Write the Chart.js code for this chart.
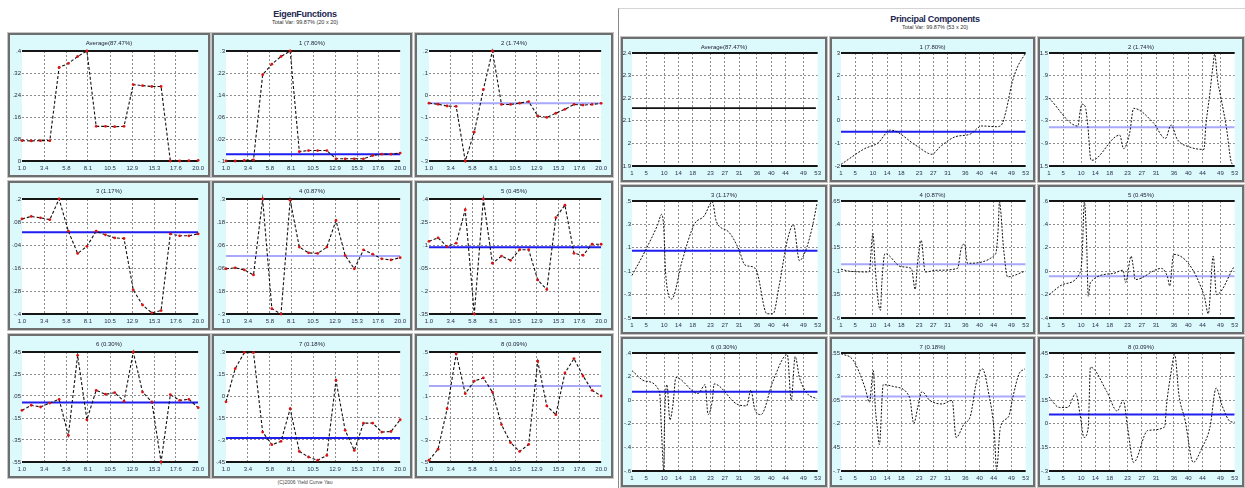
<!DOCTYPE html>
<html>
<head>
<meta charset="utf-8">
<script src="https://cdn.jsdelivr.net/npm/chart.js@4.4.1/dist/chart.umd.min.js"></script>
<style>
  body { margin:0; width:1245px; height:488px; background:#fff; position:relative; overflow:hidden;
         font-family:"Liberation Sans", Arial, sans-serif; }
  .head { position:absolute; text-align:center; color:#1c2650; }
  .head b { display:block; font-size:9px; line-height:10px; letter-spacing:-0.3px; }
  .head span { display:block; font-size:5.5px; line-height:7px; color:#333; }
  .rpanel { position:absolute; left:618px; top:8px; width:627px; height:480px; background:#fff;
            border-left:1px solid #8a8a8a; border-top:1px solid #d4d4d4; }
  .box { position:absolute; box-sizing:border-box; border:2px solid #6e6e6e; background:#dcf9fb;
         outline:1px solid #c4c4c4; }
  .box .ttl { position:absolute; left:0; right:0; top:4px; text-align:center; font-size:6px;
              line-height:8px; color:#22223a; }
  .box canvas { position:absolute; left:0; top:0; }
  .foot { position:absolute; left:230px; width:150px; top:479px; text-align:center; font-size:5px; color:#444; }
</style>
</head>
<body>
<div class="head" style="left:200px;width:210px;top:9px"><b>EigenFunctions</b><span>Total Var: 99.87% (20 x 20)</span></div>
<div class="rpanel"></div>
<div class="head" style="left:830px;width:210px;top:14px"><b>Principal Components</b><span>Total Var: 99.87% (53 x 20)</span></div>
<div class="foot">(C)2006 Yield Curve Yau</div>
<div id="boxes"></div>
<script>
// ---------- eigenfunctions (left) ----------
const xEigen = [1,2,3,4,5,6,7,8,9,10,11,12,13,14,15,16,17,18,19,20];
const xEigenTicks = [1.0,3.4,5.8,8.1,10.5,12.9,15.3,17.6,20.0];

const eigTitles = ['Average(87.47%)','1 (7.80%)','2 (1.74%)','3 (1.17%)','4 (0.87%)','5 (0.45%)','6 (0.30%)','7 (0.18%)','8 (0.09%)'];

const eigAvg = [0.074,0.073,0.074,0.074,0.340,0.355,0.380,0.400,0.126,0.126,0.125,0.126,0.278,0.274,0.271,0.271,0.000,0.000,0.001,0.002];
const eig1 = [-0.100,-0.100,-0.098,-0.096,0.214,0.252,0.280,0.300,-0.066,-0.062,-0.062,-0.062,-0.092,-0.092,-0.092,-0.092,-0.080,-0.075,-0.075,-0.071];
const eig2 = [-0.037,-0.042,-0.050,-0.052,-0.300,-0.168,0.025,0.200,-0.043,-0.043,-0.037,-0.030,-0.095,-0.102,-0.083,-0.065,-0.043,-0.046,-0.043,-0.038];
const eig3 = [0.096,0.109,0.102,0.092,0.200,0.032,-0.084,-0.047,0.032,0.013,-0.003,-0.006,-0.274,-0.353,-0.394,-0.382,0.018,0.008,0.008,0.018];
const eig4 = [-0.064,-0.059,-0.070,-0.096,0.300,-0.272,-0.300,0.294,0.049,0.019,0.016,0.049,0.188,0.005,-0.064,0.035,0.012,-0.012,-0.018,-0.006];
const eig5 = [0.124,0.147,0.090,0.112,0.330,-0.350,0.400,-0.019,0.028,0.000,0.069,0.069,-0.128,-0.190,0.279,0.360,0.046,0.033,0.105,0.105];
const eig6 = [-0.080,-0.034,-0.050,-0.014,0.020,-0.308,0.420,-0.166,0.102,0.066,0.080,0.002,0.450,0.086,-0.004,-0.550,0.062,0.010,0.020,-0.056];
const eig7 = [-0.040,0.186,0.296,0.296,-0.246,-0.332,-0.309,-0.087,-0.378,-0.416,-0.438,-0.405,0.107,-0.234,-0.371,-0.185,-0.185,-0.246,-0.242,-0.162];
const eig8 = [-0.484,-0.384,-0.016,0.484,0.122,0.236,0.264,0.136,-0.160,-0.324,-0.404,-0.340,0.416,0.010,-0.070,0.310,0.440,0.282,0.152,0.100];

const eigTicks = [
  [0.00,0.08,0.16,0.24,0.32,0.40],
  [-0.10,-0.02,0.06,0.14,0.22,0.30],
  [-0.30,-0.20,-0.10,0.00,0.10,0.20],
  [-0.40,-0.28,-0.16,-0.04,0.08,0.20],
  [-0.30,-0.18,-0.06,0.06,0.18,0.30],
  [-0.35,-0.20,-0.05,0.10,0.25,0.40],
  [-0.55,-0.35,-0.15,0.05,0.25,0.45],
  [-0.45,-0.30,-0.15,0.00,0.15,0.30],
  [-0.50,-0.30,-0.10,0.10,0.30,0.50]
];
const eigMeans = [null,-0.075,-0.037,0.027,0.002,0.085,-0.008,-0.287,0.190];
const eigMeanLight = [false,false,true,false,true,false,false,false,true];

// ---------- principal components (right) ----------
const xPcTicks = [1,5,10,14,18,23,27,31,36,40,44,49,53];
const pcTitles = ['Average(87.47%)','1 (7.80%)','2 (1.74%)','3 (1.17%)','4 (0.87%)','5 (0.45%)','6 (0.30%)','7 (0.18%)','8 (0.09%)'];

const pcAvgX = [1,52.5];
const pcAvgY = [2.156,2.156];
const pc1X = [1,7.7,11.4,14.9,22,25.7,26.6,28.9,33.1,37.4,40.6,44.8,46.1,47.5,49.1,50.7,53];
const pc1Y = [-1.93,-1.23,-0.98,-0.41,-1.08,-1.45,-1.48,-1.15,-0.71,-0.59,-0.23,-0.26,-0.20,0.45,1.64,2.38,3.00];
const pc2X = [1,9.1,9.7,10.2,11.1,11.9,12.7,13,20.8,21.9,23.6,24.7,30.2,33.6,35.2,36.9,40.2,44.4,44.9,46,46.9,47.4,48.2,49.1,50.8,51.9,52.8];
const pc2Y = [0.30,-0.44,-0.06,0.14,0.09,-0.46,-1.33,-1.35,-0.68,-1.04,-0.62,0.03,-0.35,-0.77,-0.41,-0.79,-0.99,-1.06,-0.46,0.39,1.14,1.47,0.78,0.34,-0.55,-1.34,-1.50];
const pc3X = [1,4.7,8.2,9.3,9.9,10.4,12.1,15,18.4,21.2,23.5,24.6,28,30.9,32.6,34.8,36,38.8,40.5,42.2,44.5,46.2,47.9,49.6,51.3,52.8];
const pc3Y = [-0.136,0.074,0.298,0.386,0.268,-0.106,-0.338,-0.016,0.298,0.372,0.492,0.326,0.238,0.088,-0.046,-0.062,-0.106,-0.464,-0.464,-0.226,0.162,0.298,-0.010,0.074,0.252,0.476];
const pc4X = [1,3.3,8.9,10,10.6,11.2,12.1,12.5,13.4,18,20.8,21.9,22.5,23.6,24.7,28.1,33.8,34.9,35.8,36.6,44.5,45.3,45.6,46.8,47.9,52.8];
const pc4Y = [-0.078,-0.100,-0.108,0.303,-0.033,-0.333,-0.518,-0.220,0.088,-0.053,-0.070,-0.295,-0.033,0.228,-0.108,-0.090,-0.070,0.153,0.190,-0.015,0.080,0.378,0.640,0.135,-0.160,-0.100];
const pc5X = [1,5.2,9.8,10.3,10.9,11.5,12,12.6,18.9,21.7,22.5,24,24.6,25.1,32.5,34.2,34.8,35.9,44.5,45.6,47,47.9,52.8];
const pc5Y = [-0.200,-0.110,-0.006,0.144,0.592,0.292,-0.214,-0.096,-0.020,0.008,-0.096,0.128,0.038,-0.072,0.024,-0.050,-0.126,0.144,-0.214,-0.364,0.128,-0.200,0.038];
const pc6X = [1,4.7,8.7,9.3,9.9,10.1,10.8,11.6,12.5,13.3,19.5,21.5,22.3,23.5,24,30.3,33.1,34.3,35.4,37.1,40.5,44.5,45.6,46.7,47.9,50.1,52.8];
const pc6Y = [0.250,0.162,0.072,-0.286,-0.600,-0.198,0.132,-0.168,-0.032,0.192,0.056,0.132,-0.122,-0.002,0.138,-0.032,-0.048,0.086,-0.078,-0.122,0.162,0.386,-0.002,0.370,0.192,0.056,0.012];
const pc7X = [1,4.4,7.8,9,10.1,10.7,11.2,11.8,12.9,15.8,20.3,21.5,22.6,23.8,26,29.5,32.3,33.4,35.7,37.4,39.1,40.8,42.5,44.2,44.8,45.9,48.2,49.4,51.1,52.8];
const pc7Y = [0.543,0.475,0.178,0.028,0.363,-0.048,-0.233,-0.420,0.215,0.195,0.083,-0.198,-0.028,0.140,0.048,0.010,0.048,-0.345,-0.198,-0.123,0.233,0.383,0.140,-0.308,-0.683,-0.233,-0.123,0.083,0.325,0.383];
const pc8X = [1,3.9,6.2,8.5,9.7,10.8,12,12.6,17.2,20.1,21.8,23,24.7,28.7,33.4,33.9,35.1,36.2,37.4,39.1,41.4,43.8,46.1,47.8,49.5,51.8,53];
const pc8Y = [0.170,0.104,0.104,0.192,0.059,-0.087,-0.020,0.360,0.204,0.081,0.149,-0.020,-0.245,-0.042,-0.020,0.114,0.315,0.440,0.182,0.024,-0.245,-0.155,-0.020,0.227,0.114,0.014,0.010];

const pcTicks = [
  [1.90,2.00,2.10,2.20,2.30,2.40],
  [-2.0,-1.0,0.0,1.0,2.0,3.0],
  [-1.5,-0.9,-0.3,0.3,0.9,1.5],
  [-0.5,-0.3,-0.1,0.1,0.3,0.5],
  [-0.60,-0.35,-0.10,0.15,0.40,0.65],
  [-0.4,-0.2,0.0,0.2,0.4,0.6],
  [-0.6,-0.4,-0.2,0.0,0.2,0.4],
  [-0.70,-0.45,-0.20,0.05,0.30,0.55],
  [-0.30,-0.15,0.00,0.15,0.30,0.45]
];
const pcMeans = [null,-0.49,-0.47,0.074,-0.025,-0.044,0.072,0.090,0.059];
const pcMeanLight = [false,false,true,false,true,true,false,true,false];

// ---------- layout ----------
const leftCols = [[8,202],[212,200],[415,198]];
const leftRows = [[33,144],[181,149],[334,144]];
const rightCols = [[621,206],[830,205],[1038,206]];
const rightRows = [[37,145],[185,149],[337,150]];

// thick black line on top/bottom of plot + white plot background
const frameLines = {
  id: 'frameLines',
  beforeDraw(chart) {
    const { ctx, chartArea: a } = chart;
    ctx.save();
    ctx.fillStyle = '#fff';
    ctx.fillRect(a.left, a.top, a.right - a.left, a.bottom - a.top);
    ctx.restore();
  },
  beforeDatasetsDraw(chart) {
    const { ctx, chartArea: a } = chart;
    ctx.save();
    ctx.strokeStyle = '#151515';
    ctx.lineWidth = 2;
    ctx.beginPath();
    ctx.moveTo(a.left, a.top); ctx.lineTo(a.right, a.top);
    ctx.moveTo(a.left, a.bottom); ctx.lineTo(a.right, a.bottom);
    ctx.stroke();
    ctx.restore();
  }
};

// .4 / -.15 / 2.4 style labels, like the small print in the original
function shortNum(v) {
  return String(+v.toFixed(2)).replace(/^(-?)0\./, '$1.');
}

function makeBox(left, top, w, h, title) {
  const box = document.createElement('div');
  box.className = 'box';
  box.style.cssText = `left:${left}px;top:${top}px;width:${w}px;height:${h}px`;
  const cv = document.createElement('canvas');
  cv.width = w - 4; cv.height = h - 4;
  box.appendChild(cv);
  const t = document.createElement('div');
  t.className = 'ttl';
  t.textContent = title;
  box.appendChild(t);
  document.getElementById('boxes').appendChild(box);
  return cv;
}

function drawPanel(cv, o) {
  const gridCol = (c, n) => (c.index === 0 || c.index === n - 1) ? 'rgba(0,0,0,0)' : '#8c8c8c';
  const datasets = [{
    data: o.xs.map((x, i) => ({ x, y: o.ys[i] })),
    borderColor: '#111',
    borderWidth: o.eigen ? 1.1 : (o.solid ? 1.6 : 1),
    borderDash: o.solid ? [] : (o.eigen ? [3, 2] : [2, 1.5]),
    pointRadius: o.eigen ? 1.4 : 0,
    pointBackgroundColor: '#e01010',
    pointBorderWidth: 0,
    cubicInterpolationMode: o.eigen ? 'default' : 'monotone',
    clip: false,
    order: 1
  }];
  if (o.mean !== null) {
    datasets.push({
      data: [{ x: o.xTicks[0], y: o.mean }, { x: o.xTicks[o.xTicks.length - 1], y: o.mean }],
      borderColor: o.light ? '#a9a9fb' : '#1e1ef0',
      borderWidth: 2,
      pointRadius: 0,
      order: 2
    });
  }
  new Chart(cv, {
    type: 'line',
    data: { datasets },
    options: {
      responsive: false,
      animation: false,
      events: [],
      layout: { padding: o.eigen ? { top: 16, right: 7, bottom: 1, left: 2 } : { top: 14, right: 5, bottom: 1, left: 0 } },
      plugins: { legend: { display: false }, tooltip: { enabled: false } },
      scales: {
        x: {
          type: 'linear',
          min: o.xTicks[0], max: o.xTicks[o.xTicks.length - 1],
          afterBuildTicks: s => { s.ticks = o.xTicks.map(v => ({ value: v })); },
          afterFit: s => { s.height = 13; },
          grid: { color: c => gridCol(c, o.xTicks.length), lineWidth: 1, drawTicks: false },
          border: { display: false, dash: [2, 2] },
          ticks: {
            autoSkip: false, maxRotation: 0, padding: 4,
            color: '#2a3050', font: { size: 6, family: 'Liberation Sans, Arial' },
            callback: v => o.eigen ? v.toFixed(1) : String(v)
          }
        },
        y: {
          min: o.yTicks[0], max: o.yTicks[o.yTicks.length - 1],
          afterBuildTicks: s => { s.ticks = o.yTicks.map(v => ({ value: v })); },
          afterFit: s => { s.width = o.eigen ? 10 : 9; },
          grid: { color: c => gridCol(c, o.yTicks.length), lineWidth: 1, drawTicks: false },
          border: { display: false, dash: [2, 2] },
          ticks: {
            padding: 1,
            color: '#2a2a3a', font: { size: 6, family: 'Liberation Sans, Arial' },
            callback: v => shortNum(v)
          }
        }
      }
    },
    plugins: [frameLines]
  });
}

const eigSeries = [eigAvg, eig1, eig2, eig3, eig4, eig5, eig6, eig7, eig8];
eigSeries.forEach((ys, i) => {
  const [l, w] = leftCols[i % 3];
  const [t, h] = leftRows[Math.floor(i / 3)];
  const cv = makeBox(l, t, w, h, eigTitles[i]);
  drawPanel(cv, { eigen: true, xs: xEigen, ys, xTicks: xEigenTicks, yTicks: eigTicks[i],
                  mean: eigMeans[i], light: eigMeanLight[i] });
});

const pcXs = [pcAvgX, pc1X, pc2X, pc3X, pc4X, pc5X, pc6X, pc7X, pc8X];
const pcYs = [pcAvgY, pc1Y, pc2Y, pc3Y, pc4Y, pc5Y, pc6Y, pc7Y, pc8Y];
pcYs.forEach((ys, i) => {
  const [l, w] = rightCols[i % 3];
  const [t, h] = rightRows[Math.floor(i / 3)];
  const cv = makeBox(l, t, w, h, pcTitles[i]);
  drawPanel(cv, { eigen: false, solid: i === 0, xs: pcXs[i], ys, xTicks: xPcTicks, yTicks: pcTicks[i],
                  mean: pcMeans[i], light: pcMeanLight[i] });
});
</script>
</body>
</html>
